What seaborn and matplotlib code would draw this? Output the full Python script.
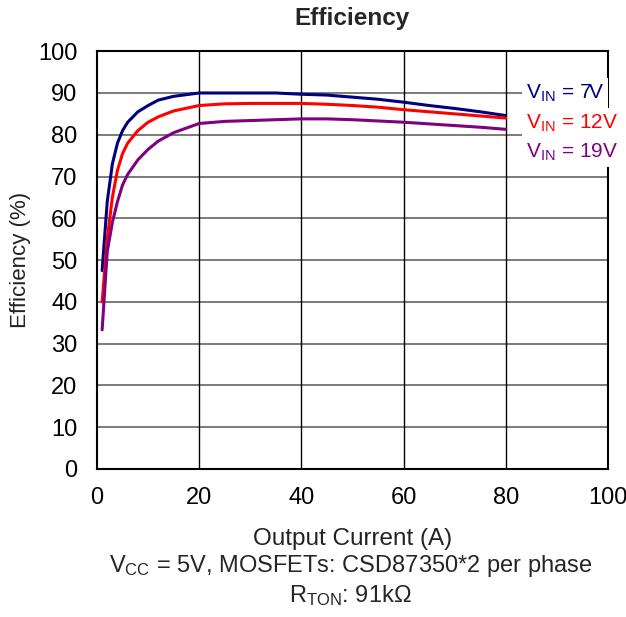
import matplotlib
matplotlib.use("Agg")
import matplotlib.pyplot as plt
import seaborn as sns
import pandas as pd

current = [1, 2, 3, 4, 5, 6, 8, 10, 12, 15, 20, 25, 30, 35, 40, 45, 50, 55, 60, 65, 70, 75, 80]
eff_7v = [47.5, 64, 73, 78, 81, 83, 85.5, 87, 88.3, 89.2, 90, 90, 90, 90, 89.7, 89.5, 89, 88.5, 87.8, 87, 86.3, 85.5, 84.6]
eff_12v = [40, 55, 65, 71.5, 75.5, 78, 81, 83, 84.3, 85.7, 87, 87.4, 87.5, 87.5, 87.5, 87.3, 87, 86.6, 86, 85.5, 85, 84.5, 84]
eff_19v = [33.3, 52, 59, 64, 68, 70.5, 74, 76.5, 78.5, 80.5, 82.7, 83.2, 83.4, 83.6, 83.8, 83.8, 83.6, 83.3, 83, 82.6, 82.2, 81.8, 81.3]
series = ["7V", "12V", "19V"]
colors = ["#000080", "#FF0000", "#800080"]
x_ticks = [0, 20, 40, 60, 80, 100]
y_ticks = [0, 10, 20, 30, 40, 50, 60, 70, 80, 90, 100]

sns.set_theme(style="white")
plt.rcParams['font.family'] = ['Liberation Sans', 'DejaVu Sans']
plt.rcParams['mathtext.fontset'] = 'custom'
plt.rcParams['mathtext.rm'] = 'Liberation Sans'
plt.rcParams['mathtext.it'] = 'Liberation Sans'

df = pd.concat([
    pd.DataFrame({"I": current, "E": vals, "Vin": name})
    for name, vals in zip(series, [eff_7v, eff_12v, eff_19v])
])

fig = plt.figure(figsize=(6.26, 6.17), dpi=100)
ax = fig.add_axes([0.155, 0.240, 0.816, 0.677])
sns.lineplot(data=df, x="I", y="E", hue="Vin", palette=dict(zip(series, colors)),
             linewidth=2.2, ax=ax, legend=False)

ax.set_xlim(0, 100)
ax.set_ylim(0, 100)
ax.set_xticks(x_ticks)
ax.set_yticks(y_ticks)
ax.tick_params(axis='both', labelsize=17, length=0, colors='black')
ax.tick_params(axis='y', pad=14)
ax.tick_params(axis='x', pad=13)
for yv in y_ticks[1:-1]:
    ax.axhline(yv, color='#707070', lw=1.3, zorder=0)
for xv in x_ticks[1:-1]:
    ax.axvline(xv, color='black', lw=1.0, zorder=0)
for s in ax.spines.values():
    s.set_visible(True)
    s.set_color('black')
    s.set_linewidth(1.5)

ax.set_xlabel("Output Current (A)", fontsize=17.5, color='#222222', labelpad=14)
ax.set_ylabel("Efficiency (%)", fontsize=16, color='#222222', labelpad=5)
ax.set_title("Efficiency", fontsize=17.5, fontweight='bold', pad=19)

label_y = [90, 82.8, 75.8]
for name, c, yv in zip(series, colors, label_y):
    fig.text(84.0, yv, r"V$_{\mathrm{IN}}$ = " + name, color=c, fontsize=15,
             ha='left', va='center', transform=ax.transData, zorder=10,
             bbox=dict(facecolor='white', edgecolor='none', pad=3.0))

fig.text(0.56, 0.083, r"V$_{\mathrm{CC}}$ = 5V, MOSFETs: CSD87350*2 per phase",
         ha='center', va='center', fontsize=17)
fig.text(0.56, 0.035, r"R$_{\mathrm{TON}}$: 91k$\Omega$", ha='center', va='center', fontsize=17)

fig.savefig("out.png", dpi=100)
